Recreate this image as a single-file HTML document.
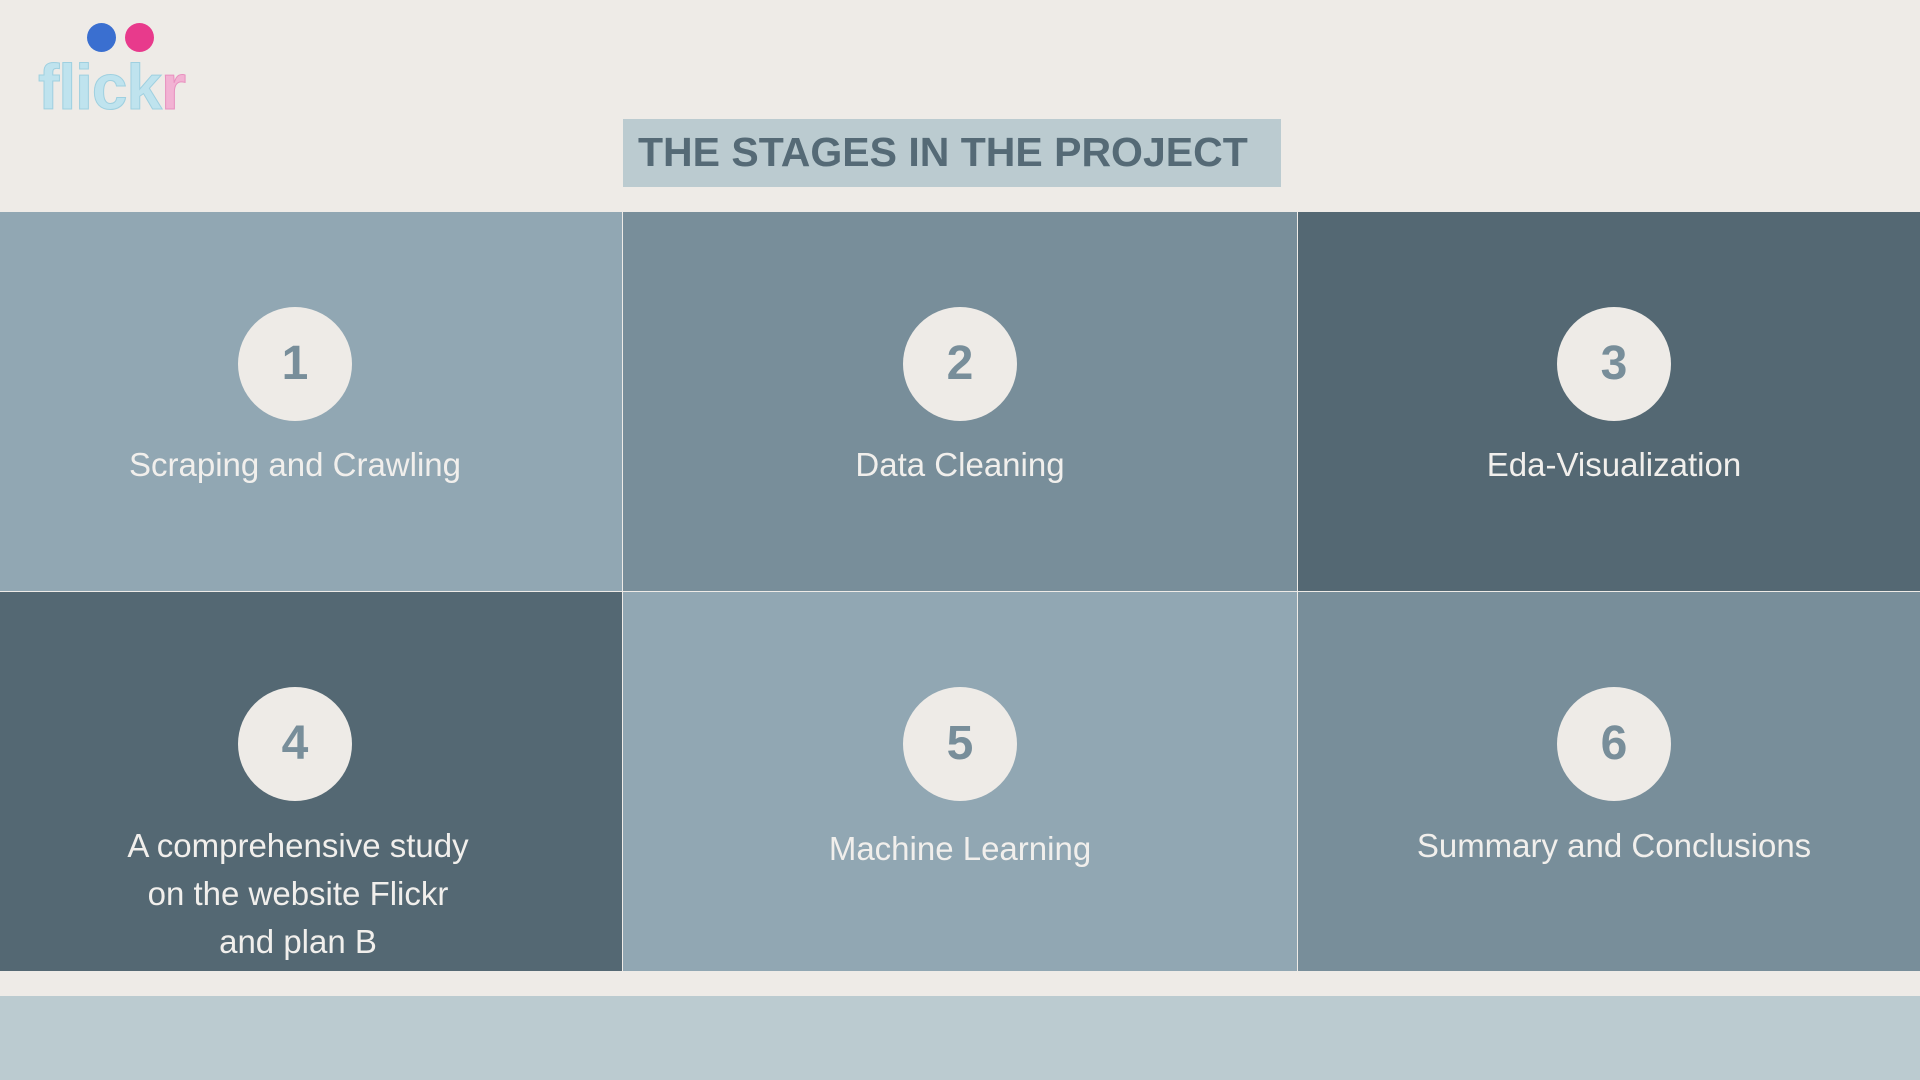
<!DOCTYPE html>
<html><head><meta charset="utf-8"><style>
body{margin:0;width:1920px;height:1080px;position:relative;background:#eeebe7;font-family:"Liberation Sans",sans-serif;overflow:hidden}
.a{position:absolute}
.cell{position:absolute}
.c{position:absolute;width:114px;height:114px;border-radius:50%;background:#eeebe7;color:#788e9a;font-weight:bold;font-size:48px;text-align:center;line-height:114px}
.l{position:absolute;color:#f1efec;font-size:33px;text-align:center;width:600px;line-height:48px}
</style></head><body>
<div class="a" style="left:87px;top:23px;width:29px;height:29px;border-radius:50%;background:#3a6fd0"></div>
<div class="a" style="left:125px;top:23px;width:29px;height:29px;border-radius:50%;background:#e83a8c"></div>
<div class="a" style="left:38px;top:50px;font-size:64px;font-weight:bold;color:#bfe3ee;letter-spacing:-1px;-webkit-text-stroke:1px #9fd0e0">flick<span style="color:#f2b2d3;-webkit-text-stroke:1px #e890bf">r</span></div>
<div class="a" style="left:623px;top:119px;width:658px;height:68px;background:#bbcbd0"></div>
<div class="a" style="left:638px;top:124px;font-size:41px;font-weight:bold;color:#556a76;line-height:56px">THE STAGES IN THE PROJECT</div>
<div class="cell" style="left:0;top:212px;width:622px;height:379px;background:#91a7b3"></div>
<div class="cell" style="left:623px;top:212px;width:674px;height:379px;background:#788e9a"></div>
<div class="cell" style="left:1298px;top:212px;width:622px;height:379px;background:#546873"></div>
<div class="cell" style="left:0;top:592px;width:622px;height:379px;background:#546873"></div>
<div class="cell" style="left:623px;top:592px;width:674px;height:379px;background:#91a7b3"></div>
<div class="cell" style="left:1298px;top:592px;width:622px;height:379px;background:#788e9a"></div>
<div class="a" style="left:0;top:996px;width:1920px;height:84px;background:#bbcbd0"></div>
<div class="c" style="left:238px;top:307px">1</div>
<div class="c" style="left:903px;top:307px">2</div>
<div class="c" style="left:1557px;top:307px">3</div>
<div class="c" style="left:238px;top:687px">4</div>
<div class="c" style="left:903px;top:687px">5</div>
<div class="c" style="left:1557px;top:687px">6</div>
<div class="l" style="left:-5px;top:441px">Scraping and Crawling</div>
<div class="l" style="left:660px;top:441px">Data Cleaning</div>
<div class="l" style="left:1314px;top:441px">Eda-Visualization</div>
<div class="l" style="left:-2px;top:822px">A comprehensive study<br>on the website Flickr<br>and plan B</div>
<div class="l" style="left:660px;top:825px">Machine Learning</div>
<div class="l" style="left:1314px;top:822px">Summary and Conclusions</div>
</body></html>
